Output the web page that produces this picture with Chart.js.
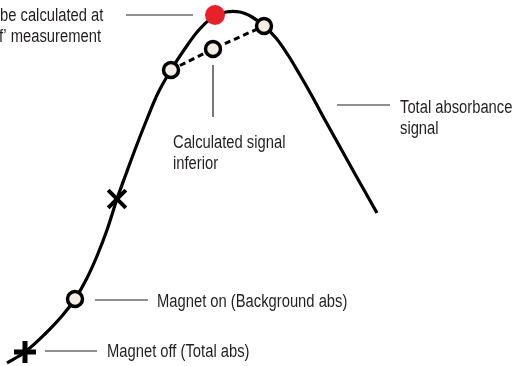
<!DOCTYPE html>
<html lang="en">
<head>
  <meta charset="UTF-8" />
  <title>Total absorbance signal</title>
  <script src="https://cdn.jsdelivr.net/npm/chart.js"></script>
  <style>
    html, body {
      margin: 0;
      padding: 0;
      background: #ffffff;
    }

    .wrap {
      position: relative;
      width: 515px;
      height: 366px;
    }
  </style>
</head>
<body>
  <div class="wrap">
    <canvas id="diagram"></canvas>
  </div>

  <script>
    // Total absorbance curve (diagram units, y grows downward)
    const curveX = [7, 25, 45, 62, 75, 87, 97, 107, 117, 126, 136, 147, 158, 171, 184, 198, 213, 226, 240, 252, 264, 276, 288, 300, 312, 325, 340, 355, 368, 377];
    const curveY = [363, 352, 334, 316, 299, 278, 256, 230, 199, 174, 147, 119, 93, 70, 50, 31, 17, 12, 12, 17, 26, 38, 55, 75, 96, 120, 147, 174, 197, 213];

    // dashed "calculated signal" chord
    const dashX = [171, 213, 264];
    const dashY = [70, 49, 26];

    // measurement markers
    const circleX = [75, 171, 213, 264];
    const circleY = [299, 70, 49, 26];
    const redX = [215];
    const redY = [15];
    const plusX = [25];
    const plusY = [352];
    const crossX = [117];
    const crossY = [199];

    // leader lines: [x1, x2], [y1, y2]
    const leaders = [
      { x: [126, 193], y: [15, 15] },
      { x: [213, 213], y: [65, 117] },
      { x: [337, 390], y: [105, 105] },
      { x: [95, 148], y: [300, 300] },
      { x: [45, 97], y: [351, 351] }
    ];

    // annotation text
    const labelText = [
      'be calculated at',
      'f\u2019 measurement',
      'Calculated signal',
      'inferior',
      'Total absorbance',
      'signal',
      'Magnet on (Background abs)',
      'Magnet off (Total abs)'
    ];
    const labelX = [0, -1, 173, 173, 400, 400, 157, 107];
    const labelY = [21, 42, 148, 169, 113, 134, 307, 357];

    const toPts = (xs, ys) => xs.map((x, i) => ({ x: x, y: ys[i] }));

    // narrow sans: Liberation Sans squeezed to Arial Narrow proportions
    const textPlugin = {
      id: 'annoText',
      afterDatasetsDraw(chart) {
        const ctx = chart.ctx;
        const sx = chart.scales.x;
        const sy = chart.scales.y;
        const squeeze = 0.82;
        ctx.save();
        ctx.fillStyle = '#231f20';
        ctx.font = '18px "Liberation Sans", Arial, sans-serif';
        ctx.textAlign = 'left';
        ctx.textBaseline = 'alphabetic';
        labelText.forEach((t, i) => {
          const px = sx.getPixelForValue(labelX[i]);
          const py = sy.getPixelForValue(labelY[i]);
          ctx.save();
          ctx.translate(px, py);
          ctx.scale(squeeze, 1);
          ctx.fillText(t, 0, 0);
          ctx.restore();
        });
        ctx.restore();
      }
    };

    const datasets = [];

    datasets.push({
      data: toPts(circleX, circleY),
      showLine: false,
      pointStyle: 'circle',
      pointRadius: 7.5,
      pointBackgroundColor: '#f5ede3',
      pointBorderColor: '#000000',
      pointBorderWidth: 3.5,
      order: 0
    });
    datasets.push({
      data: toPts(redX, redY),
      showLine: false,
      pointStyle: 'circle',
      pointRadius: 10,
      pointBackgroundColor: '#e8202a',
      pointBorderColor: '#e8202a',
      pointBorderWidth: 0,
      order: 0
    });
    datasets.push({
      data: toPts(plusX, plusY),
      showLine: false,
      pointStyle: 'cross',
      pointRadius: 11,
      pointBorderColor: '#000000',
      pointBorderWidth: 5,
      order: 0
    });
    datasets.push({
      data: toPts(crossX, crossY),
      showLine: false,
      pointStyle: 'crossRot',
      pointRadius: 12.5,
      pointBorderColor: '#000000',
      pointBorderWidth: 4,
      order: 0
    });
    datasets.push({
      data: toPts(dashX, dashY),
      showLine: true,
      borderColor: '#000000',
      borderWidth: 3,
      borderDash: [6, 4],
      pointRadius: 0,
      tension: 0,
      order: 2
    });
    datasets.push({
      data: toPts(curveX, curveY),
      showLine: true,
      borderColor: '#000000',
      borderWidth: 3.2,
      pointRadius: 0,
      tension: 0.35,
      order: 3
    });
    leaders.forEach(l => {
      datasets.push({
        data: toPts(l.x, l.y),
        showLine: true,
        borderColor: '#231f20',
        borderWidth: 1.2,
        pointRadius: 0,
        order: 4
      });
    });

    new Chart(document.getElementById('diagram').getContext('2d'), {
      type: 'scatter',
      data: { datasets: datasets },
      options: {
        responsive: true,
        maintainAspectRatio: false,
        animation: false,
        layout: { padding: 0, autoPadding: false },
        clip: false,
        plugins: {
          legend: { display: false },
          tooltip: { enabled: false }
        },
        scales: {
          x: { type: 'linear', min: 0, max: 515, display: false },
          y: { type: 'linear', min: 0, max: 366, reverse: true, display: false }
        }
      },
      plugins: [textPlugin]
    });
  </script>
</body>
</html>
